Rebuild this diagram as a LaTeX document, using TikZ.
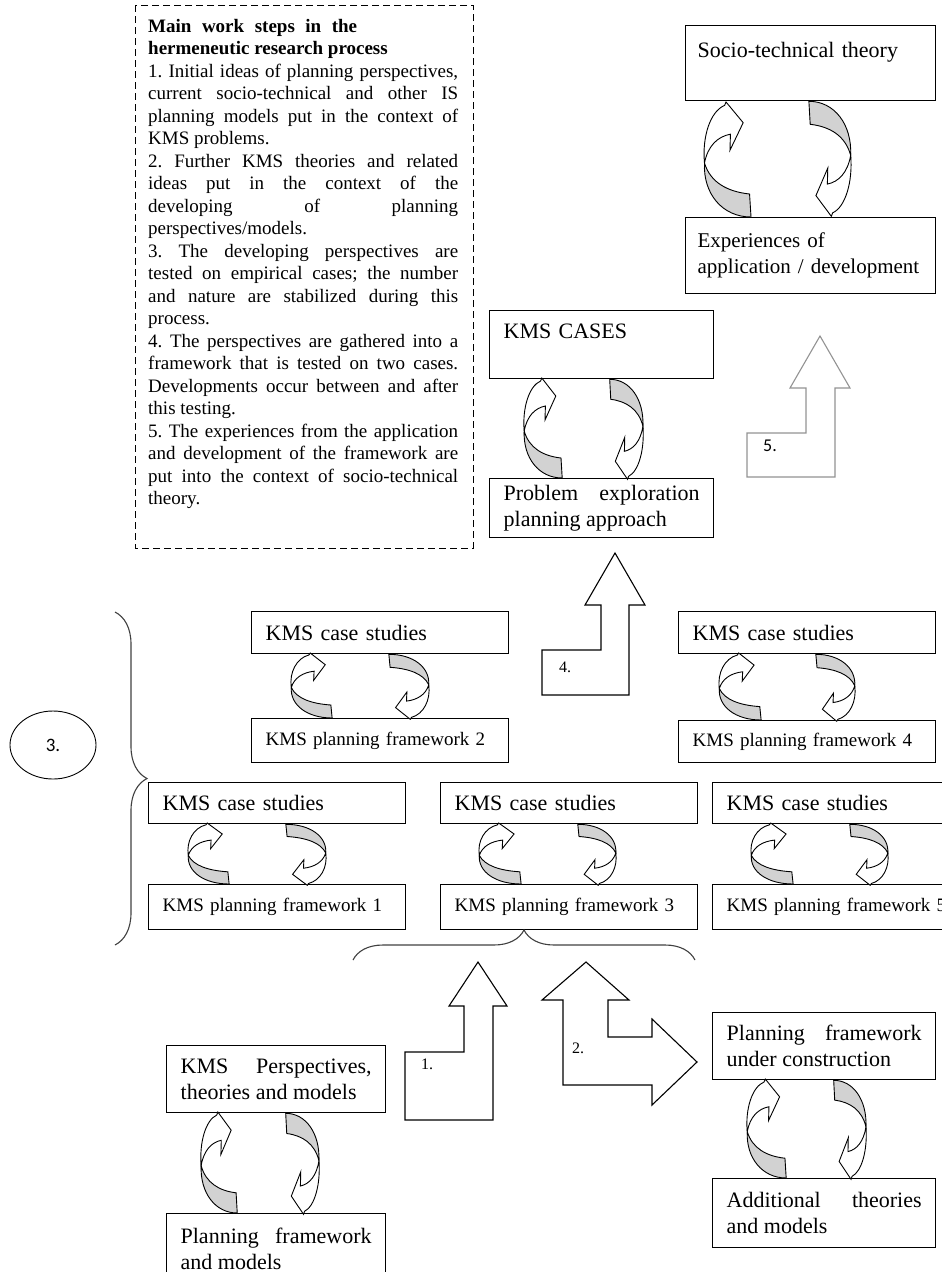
\documentclass[tikz,border=0pt]{standalone}
\usepackage{fontspec}
\setmainfont{Liberation Serif}
\newfontfamily\calfont{Carlito}
\usetikzlibrary{calc,shapes.geometric,decorations.pathreplacing}
\newcommand\bigfont{\fontsize{22}{26}\selectfont}
\newcommand\midfont{\fontsize{19}{22.5}\selectfont}
\newcommand\labfont{\fontsize{16}{20}\selectfont}
\tolerance=10000 \hbadness=10000 \hyphenpenalty=10000
\frenchspacing
\tikzset{
  % one half of a circular pair, unit square, head top right
  cycl/.pic={
    \draw[fill=gray!35,line width=0.9pt] (0.98,0) -- (0.95,0.2) .. controls (0.5,0.22) and (0.15,0.3) .. (0.03,0.47)
      .. controls (0,0.2) and (0.4,0) .. (0.98,0) -- cycle;
    \draw[fill=white,line width=0.9pt] (0.03,0.47) .. controls (-0.02,0.7) and (0.15,0.92) .. (0.44,0.97)
      -- (0.47,1) -- (0.82,0.82) -- (0.55,0.58) -- (0.56,0.72) .. controls (0.3,0.7) and (0.1,0.62) .. (0.03,0.47) -- cycle;
  }
}
\begin{document}
\begin{tikzpicture}[x=1pt,y=1pt,
    box/.style={draw,line width=1.3pt,anchor=north west,inner xsep=14pt,inner ysep=3pt,align=left,font=\bigfont},
    small/.style={box,font=\midfont},
    bent/.style={draw,line width=1.1pt,fill=white,line join=miter},
    lab/.style={font=\labfont,inner sep=0pt}]
\useasboundingbox (0,0) rectangle (942,-1272);
\clip (0,0) rectangle (942,-1272);

% work steps
\draw[line width=1pt,dash pattern=on 7pt off 4pt] (135,-5) rectangle (473,-548);
\node[anchor=north west,inner sep=0pt,text width=310pt,align=justify,font=\midfont] (steps) at (148,-19) {%
\makebox[209pt][s]{\bfseries Main work steps in the}\\
{\bfseries hermeneutic research process}\\
1. Initial ideas of planning perspectives,\linebreak current socio-technical and other IS\linebreak planning models put in the context of\linebreak KMS problems.\\
2. Further KMS theories and related\linebreak ideas put in the context of the\linebreak developing of planning\linebreak perspectives/models.\\
3. The developing perspectives are\linebreak tested on empirical cases; the number\linebreak and nature are stabilized during this\linebreak process.\\
4. The perspectives are gathered into a\linebreak framework that is tested on two cases.\linebreak Developments occur between and after\linebreak this testing.\\
5. The experiences from the application\linebreak and development of the framework are\linebreak put into the context of socio-technical\linebreak theory.};

% top right
\node[box,text width=226pt,inner xsep=12pt,minimum height=75pt] (soc) at (685,-25) {Socio-technical theory\\\mbox{}};
\node[box,text width=226pt,inner xsep=12pt,minimum height=76pt,font=\fontsize{21}{26}\selectfont] (exper) at (685,-217) {Experiences of\\\mbox{application / development}};
\pic[xscale=49,yscale=115] at ($(exper.north west)+(18,0)$) {cycl};
\pic[xscale=44,yscale=115,rotate=180] at ($(soc.south west)+(167,0)$) {cycl};

\node[box,text width=196pt,minimum height=68pt] (cases) at (489,-310) {KMS CASES\\\mbox{}};
\node[box,text width=196pt,minimum height=59pt,align=justify] (probl) at (489,-478) {Problem exploration planning approach};
\pic[xscale=40,yscale=100] at ($(probl.north west)+(34,0)$) {cycl};
\pic[xscale=35,yscale=100,rotate=180] at ($(cases.south west)+(155,0)$) {cycl};

% second row
\node[box,text width=229pt,minimum height=42pt] (cs2) at (251,-611) {KMS case studies};
\node[small,text width=229pt,minimum height=44pt] (fw2) at (251,-718) {KMS planning framework 2};
\pic[xscale=43,yscale=65] at ($(fw2.north west)+(39,0)$) {cycl};
\pic[xscale=42,yscale=65,rotate=180] at ($(cs2.south west)+(179,0)$) {cycl};

\node[box,text width=229pt,minimum height=42pt] (cs4) at (678,-611) {KMS case studies};
\node[small,text width=229pt,minimum height=42pt] (fw4) at (678,-720) {KMS planning framework 4};
\pic[xscale=44,yscale=67] at ($(fw4.north west)+(40,0)$) {cycl};
\pic[xscale=41,yscale=67,rotate=180] at ($(cs4.south west)+(178,0)$) {cycl};

% third row
\node[box,text width=229pt,minimum height=41pt] (cs1) at (148,-782) {KMS case studies};
\node[small,text width=229pt,minimum height=45pt] (fw1) at (148,-884) {KMS planning framework 1};
\pic[xscale=43,yscale=61] at ($(fw1.north west)+(39,0)$) {cycl};
\pic[xscale=42,yscale=61,rotate=180] at ($(cs1.south west)+(179,0)$) {cycl};

\node[box,text width=229pt,minimum height=41pt] (cs3) at (440,-782) {KMS case studies};
\node[small,text width=229pt,minimum height=45pt] (fw3) at (440,-884) {KMS planning framework 3};
\pic[xscale=44,yscale=61] at ($(fw3.north west)+(38,0)$) {cycl};
\pic[xscale=40,yscale=61,rotate=180] at ($(cs3.south west)+(177,0)$) {cycl};

\node[box,text width=229pt,minimum height=41pt] (cs5) at (712,-782) {KMS case studies};
\node[small,text width=229pt,minimum height=45pt] (fw5) at (712,-884) {KMS planning framework 5};
\pic[xscale=44,yscale=61] at ($(fw5.north west)+(38,0)$) {cycl};
\pic[xscale=40,yscale=61,rotate=180] at ($(cs5.south west)+(177,0)$) {cycl};

% braces
\draw[decorate,decoration={brace,amplitude=32pt},line width=1.1pt,draw=black!75] (115,-612) -- (115,-945);
\node[draw,ellipse,line width=0.9pt,minimum width=86pt,minimum height=68pt,font=\calfont\fontsize{19}{22}\selectfont] (three) at (53,-745) {3.};
\draw[decorate,decoration={brace,amplitude=30pt},line width=1.1pt,draw=black!75] (353,-960) -- (695,-960);

% bent arrows
\draw[bent] (542,-695) -- (629,-695) -- (629,-605) -- (645,-605) -- (615,-553) -- (585,-605) -- (601,-605) -- (601,-650) -- (542,-650) -- cycle;
\node[lab] (l4) at (565,-667) {4.};
\draw[bent,draw=gray!85] (747,-477) -- (835,-477) -- (835,-388) -- (850,-388) -- (820,-336) -- (790,-388) -- (806,-388) -- (806,-433) -- (747,-433) -- cycle;
\node[lab,font=\calfont\fontsize{18}{20}\selectfont] (l5) at (770,-446) {5.};
\draw[bent] (405,-1120) -- (493,-1120) -- (493,-1006) -- (507,-1006) -- (478,-962) -- (449,-1006) -- (464,-1006) -- (464,-1052) -- (405,-1052) -- cycle;
\node[lab] (l1) at (427,-1064) {1.};
\draw[bent] (563,-1085) -- (563,-1000) -- (542,-1000) -- (586,-962) -- (629,-1000) -- (608,-1000) -- (608,-1037) -- (652,-1037) -- (652,-1019) -- (697,-1062) -- (652,-1105) -- (652,-1085) -- cycle;
\node[lab] (l2) at (578,-1048) {2.};

% bottom
\node[box,text width=191pt,minimum height=67pt,align=justify] (persp) at (166,-1045) {KMS Perspectives, theories and models};
\node[box,text width=191pt,minimum height=70pt,align=justify] (plan) at (166,-1213) {Planning framework and models};
\pic[xscale=38,yscale=101] at ($(plan.north west)+(34,0)$) {cycl};
\pic[xscale=35,yscale=101,rotate=180] at ($(persp.south west)+(154,0)$) {cycl};

\node[box,text width=195pt,minimum height=67pt,align=justify] (constr) at (712,-1012) {Planning framework under construction};
\node[box,text width=195pt,minimum height=69pt,align=justify] (addl) at (712,-1178) {Additional theories and models};
\pic[xscale=41,yscale=99] at ($(addl.north west)+(34,0)$) {cycl};
\pic[xscale=34,yscale=99,rotate=180] at ($(constr.south west)+(155,0)$) {cycl};
\end{tikzpicture}
\end{document}
